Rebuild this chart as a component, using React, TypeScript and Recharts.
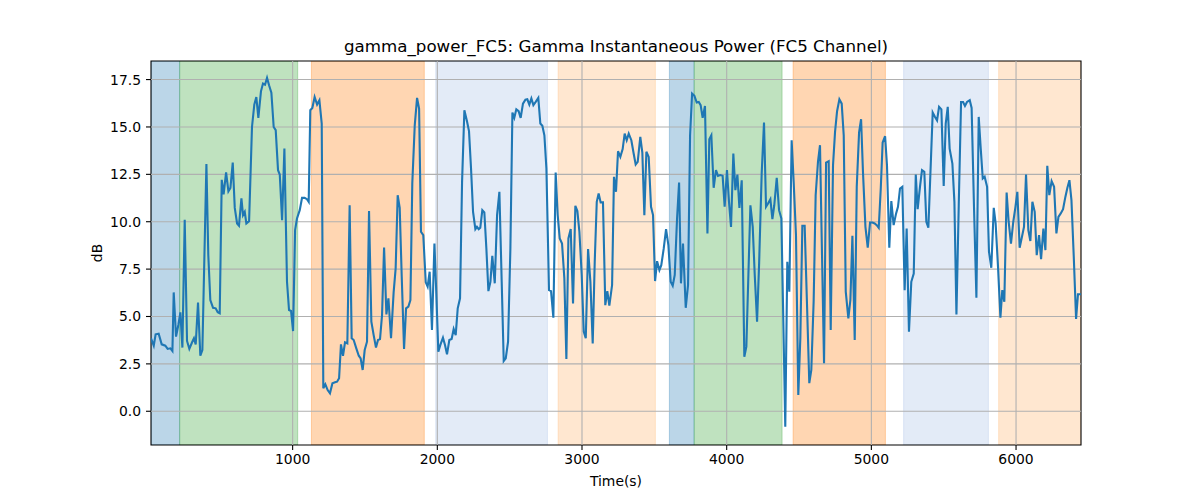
import React from "react";
import {
  LineChart,
  Line,
  XAxis,
  YAxis,
  ReferenceArea,
  ReferenceLine,
} from "recharts";

// time (s) of each sample
const times = [
  21, 40, 53, 74, 95, 120, 136, 155, 169, 178, 194, 210, 224, 238, 254, 270, 286, 305, 318, 330,
  346, 362, 376, 404, 417, 431, 450, 468, 482, 496, 510, 523, 540, 556, 570, 586, 600, 616, 629, 646,
  657, 669, 680, 699, 719, 735, 749, 763, 781, 795, 809, 823, 837, 853, 869, 883, 899, 911, 927, 943,
  961, 975, 989, 1003, 1017, 1030, 1049, 1065, 1083, 1099, 1111, 1122, 1136, 1152, 1169, 1185, 1201, 1212, 1226, 1242,
  1258, 1275, 1293, 1307, 1321, 1334, 1348, 1362, 1378, 1394, 1408, 1422, 1440, 1457, 1470, 1484, 1498, 1514, 1528, 1544,
  1560, 1576, 1590, 1604, 1618, 1632, 1648, 1662, 1680, 1698, 1712, 1726, 1740, 1754, 1770, 1784, 1800, 1814, 1827, 1844,
  1860, 1874, 1887, 1903, 1920, 1933, 1947, 1963, 1980, 1993, 2007, 2021, 2039, 2053, 2067, 2083, 2099, 2113, 2127, 2141,
  2157, 2171, 2187, 2205, 2219, 2233, 2247, 2263, 2274, 2286, 2297, 2311, 2325, 2339, 2353, 2367, 2380, 2397, 2413, 2429,
  2445, 2459, 2473, 2489, 2505, 2519, 2532, 2546, 2562, 2576, 2592, 2609, 2622, 2636, 2650, 2664, 2680, 2698, 2712, 2726,
  2740, 2754, 2772, 2786, 2802, 2818, 2832, 2846, 2862, 2878, 2892, 2906, 2922, 2938, 2954, 2968, 2982, 2998, 3012, 3026,
  3042, 3058, 3074, 3088, 3102, 3115, 3129, 3145, 3161, 3175, 3189, 3208, 3221, 3235, 3249, 3265, 3281, 3295, 3309, 3323,
  3341, 3357, 3371, 3385, 3403, 3417, 3431, 3445, 3461, 3477, 3491, 3505, 3519, 3535, 3548, 3565, 3581, 3597, 3613, 3627,
  3641, 3657, 3671, 3684, 3698, 3717, 3733, 3747, 3761, 3777, 3793, 3807, 3820, 3834, 3850, 3867, 3880, 3894, 3910, 3926,
  3940, 3956, 3972, 3986, 4002, 4016, 4030, 4046, 4060, 4074, 4088, 4104, 4122, 4136, 4150, 4164, 4180, 4194, 4210, 4224,
  4242, 4258, 4272, 4286, 4302, 4316, 4329, 4346, 4362, 4378, 4389, 4405, 4419, 4433, 4449, 4463, 4479, 4495, 4509, 4523,
  4539, 4555, 4571, 4585, 4601, 4615, 4631, 4645, 4659, 4673, 4687, 4705, 4719, 4735, 4749, 4763, 4779, 4795, 4809, 4823,
  4841, 4855, 4869, 4885, 4899, 4915, 4929, 4942, 4959, 4975, 4991, 5007, 5023, 5037, 5051, 5065, 5078, 5095, 5108, 5124,
  5138, 5154, 5171, 5184, 5198, 5214, 5230, 5244, 5260, 5276, 5293, 5307, 5320, 5336, 5350, 5366, 5380, 5394, 5424, 5440,
  5454, 5468, 5484, 5500, 5514, 5528, 5541, 5560, 5574, 5588, 5604, 5620, 5634, 5647, 5661, 5680, 5693, 5710, 5726, 5742,
  5756, 5770, 5783, 5800, 5813, 5829, 5846, 5859, 5876, 5892, 5905, 5919, 5935, 5949, 5965, 5981, 5995, 6009, 6025, 6041,
  6055, 6069, 6085, 6099, 6113, 6129, 6143, 6159, 6173, 6189, 6203, 6216, 6230, 6246, 6263, 6279, 6293, 6309, 6325, 6341,
  6355, 6369, 6383, 6399, 6415, 6428, 6449,
];

// gamma power in dB at each time above
const powerDb = [
  3.85, 3.46, 4.06, 4.09, 3.53, 3.46, 3.29, 3.32, 3.18, 6.27, 3.94, 4.55, 5.22, 3.36, 10.1, 3.71, 3.29, 3.64, 3.85, 3.53,
  5.74, 2.93, 3.23, 13.04, 8.24, 5.87, 5.46, 5.43, 5.22, 5.17, 12.21, 11.44, 12.6, 11.61, 11.79, 13.12, 10.73, 9.91, 9.79, 11.23,
  10.35, 10.52, 9.91, 10.03, 15.0, 16.18, 16.58, 15.48, 16.88, 17.29, 17.23, 17.59, 17.2, 16.81, 15.0, 14.83, 12.72, 12.49, 10.08, 13.86,
  6.83, 5.34, 5.29, 4.23, 9.56, 10.17, 10.61, 11.26, 11.26, 11.19, 11.05, 15.88, 16.0, 16.58, 16.18, 16.41, 15.18, 1.21, 1.42, 1.12,
  0.95, 1.48, 1.53, 1.56, 1.74, 3.53, 2.93, 3.64, 3.58, 10.87, 3.85, 3.76, 3.32, 2.93, 2.79, 2.18, 3.23, 3.67, 10.56, 4.73,
  4.02, 3.36, 3.76, 3.81, 5.08, 8.64, 5.11, 5.96, 3.85, 6.27, 7.54, 11.4, 10.73, 7.1, 3.29, 5.43, 5.52, 5.87, 12.02, 15.09,
  16.53, 15.97, 9.47, 9.29, 6.8, 6.57, 7.36, 4.29, 8.85, 6.22, 3.14, 3.5, 3.88, 3.5, 3.0, 3.76, 3.81, 4.34, 4.02, 5.43,
  5.96, 12.1, 15.88, 15.3, 14.78, 12.81, 10.52, 9.61, 9.73, 9.61, 9.68, 10.61, 10.49, 8.59, 6.34, 6.83, 8.2, 6.75, 10.35, 11.58,
  6.83, 2.65, 2.79, 3.67, 8.59, 15.76, 15.48, 15.93, 15.83, 15.48, 16.23, 16.44, 16.46, 16.18, 16.5, 16.15, 16.32, 16.53, 15.18, 15.06,
  14.56, 12.81, 6.39, 6.34, 4.94, 12.6, 10.35, 9.12, 8.85, 7.01, 2.76, 9.12, 9.61, 5.69, 10.84, 10.56, 9.47, 7.19, 4.2, 3.85,
  8.56, 6.83, 3.58, 7.89, 11.05, 11.49, 11.02, 11.02, 5.6, 6.34, 5.57, 6.66, 12.37, 11.58, 13.72, 13.42, 13.83, 14.65, 14.3, 14.65,
  14.3, 13.6, 13.02, 13.16, 14.48, 13.65, 10.35, 13.69, 13.42, 10.79, 10.35, 6.87, 7.92, 7.45, 7.71, 8.59, 9.61, 8.77, 6.83, 6.62,
  7.19, 10.17, 12.07, 6.75, 8.85, 5.46, 6.66, 14.56, 16.76, 16.64, 16.29, 16.32, 16.15, 15.48, 16.11, 9.38, 14.35, 14.56, 11.79, 12.72,
  12.42, 12.46, 12.42, 10.79, 12.72, 11.05, 9.73, 13.6, 11.67, 12.49, 10.73, 12.19, 2.88, 3.41, 7.19, 10.87, 9.73, 7.19, 4.73, 7.75,
  12.54, 15.23, 10.79, 10.96, 11.19, 10.14, 10.87, 12.32, 10.61, 10.17, 5.78, -0.81, 7.89, 6.31, 14.3, 12.1, 9.29, 0.86, 3.85, 9.79,
  9.79, 5.69, 1.48, 2.18, 5.78, 11.4, 13.16, 14.04, 8.24, 2.53, 13.12, 13.19, 4.29, 12.98, 14.74, 15.83, 16.46, 16.23, 14.56, 6.31,
  4.9, 5.87, 9.26, 3.76, 11.84, 14.7, 15.41, 12.63, 9.73, 8.63, 9.96, 9.96, 9.91, 9.82, 9.68, 11.75, 14.18, 14.51, 12.98, 8.63,
  11.09, 9.82, 10.44, 10.79, 11.75, 11.84, 6.39, 9.64, 4.2, 6.83, 7.27, 12.49, 10.66, 11.84, 12.72, 12.63, 10.0, 9.68, 15.76, 15.53,
  15.35, 16.06, 15.93, 11.89, 15.18, 16.06, 13.86, 13.07, 11.05, 5.11, 10.87, 16.32, 16.32, 16.11, 16.32, 16.41, 16.0, 10.61, 5.99, 15.53,
  13.86, 12.28, 12.37, 11.84, 8.42, 7.57, 10.73, 9.91, 7.54, 4.94, 6.39, 5.78, 11.54, 10.0, 8.85, 10.0, 10.73, 11.58, 8.63, 9.21,
  9.73, 12.49, 9.56, 8.98, 11.05, 10.52, 8.24, 9.29, 8.03, 9.64, 8.5, 12.95, 11.4, 12.14, 11.84, 9.38, 10.26, 10.44, 10.66, 11.31,
  11.79, 12.19, 11.14, 8.15, 4.87, 6.17, 6.17,
];

// shaded phases
const phaseStarts = [21, 219, 1130, 1989, 2835, 3604, 3775, 4459, 5223, 5880];
const phaseEnds = [219, 1035, 1910, 2761, 3507, 3775, 4383, 5097, 5809, 6449];
const phaseKinds = [0, 1, 2, 3, 4, 0, 1, 2, 3, 4];

const xTicks = [1000, 2000, 3000, 4000, 5000, 6000];
const yTicks = [0, 2.5, 5, 7.5, 10, 12.5, 15, 17.5];
const xDomain = [21, 6449];
const yDomain = [-1.78, 18.48];

const phaseColors = ["#1f77b4", "#2ca02c", "#ff7f0e", "#aec7e8", "#ffbb78"];
const phaseAlpha = [0.3, 0.3, 0.32, 0.35, 0.35];

const FONT = '"DejaVu Sans", sans-serif';
const tickStyle = { fill: "#000", fontSize: 13.9, fontFamily: FONT };

const data = times.map((t, i) => ({ t, v: powerDb[i] }));

export default function App() {
  return (
    <div
      style={{
        position: "absolute",
        left: 0,
        top: 0,
        width: 1200,
        height: 500,
        background: "#fff",
        fontFamily: FONT,
      }}
    >
      <LineChart
        width={1200}
        height={500}
        data={data}
        margin={{ top: 61, right: 119, bottom: 25, left: 91 }}
      >
        <XAxis
          type="number"
          dataKey="t"
          domain={xDomain}
          ticks={xTicks}
          interval={0}
          allowDataOverflow
          height={30}
          tickSize={5}
          tickMargin={4}
          tick={tickStyle}
          axisLine={false}
          tickLine={{ stroke: "#000", strokeWidth: 1.1 }}
          label={{
            content: () => (
              <text x={616} y={486} textAnchor="middle" fontSize={13.9} fontFamily={FONT} fill="#000">
                Time(s)
              </text>
            ),
          }}
        />
        <YAxis
          type="number"
          domain={yDomain}
          ticks={yTicks}
          interval={0}
          allowDataOverflow
          width={60}
          tickSize={5}
          tickMargin={5}
          tick={tickStyle}
          tickFormatter={(v: number) => v.toFixed(1)}
          axisLine={false}
          tickLine={{ stroke: "#000", strokeWidth: 1.1 }}
          label={{
            content: () => (
              <text
                x={97}
                y={253}
                transform="rotate(-90, 97, 253)"
                textAnchor="middle"
                dominantBaseline="central"
                fontSize={13.9}
                fontFamily={FONT}
                fill="#000"
              >
                dB
              </text>
            ),
          }}
        />
        {phaseStarts.map((s, i) => (
          <ReferenceArea
            key={"p" + i}
            x1={s}
            x2={phaseEnds[i]}
            y1={yDomain[0]}
            y2={yDomain[1]}
            fill={phaseColors[phaseKinds[i]]}
            fillOpacity={phaseAlpha[phaseKinds[i]]}
            stroke={phaseColors[phaseKinds[i]]}
            strokeOpacity={phaseAlpha[phaseKinds[i]]}
            ifOverflow="hidden"
          />
        ))}
        {xTicks.map((x) => (
          <ReferenceLine key={"gx" + x} x={x} stroke="#b0b0b0" strokeWidth={1.1} />
        ))}
        {yTicks.map((y) => (
          <ReferenceLine key={"gy" + y} y={y} stroke="#b0b0b0" strokeWidth={1.1} />
        ))}
        <Line
          type="linear"
          dataKey="v"
          stroke="#1f77b4"
          strokeWidth={2.1}
          dot={false}
          activeDot={false}
          isAnimationActive={false}
        />
        <ReferenceArea
          x1={xDomain[0]}
          x2={xDomain[1]}
          y1={yDomain[0]}
          y2={yDomain[1]}
          fill="none"
          stroke="#000"
          strokeWidth={1.1}
          ifOverflow="visible"
        />
      </LineChart>
      <svg
        width={1200}
        height={500}
        style={{ position: "absolute", left: 0, top: 0, pointerEvents: "none" }}
      >
        <text x={616} y={52} textAnchor="middle" fontSize={16.7} fontFamily={FONT} fill="#000">
          gamma_power_FC5: Gamma Instantaneous Power (FC5 Channel)
        </text>
      </svg>
    </div>
  );
}
